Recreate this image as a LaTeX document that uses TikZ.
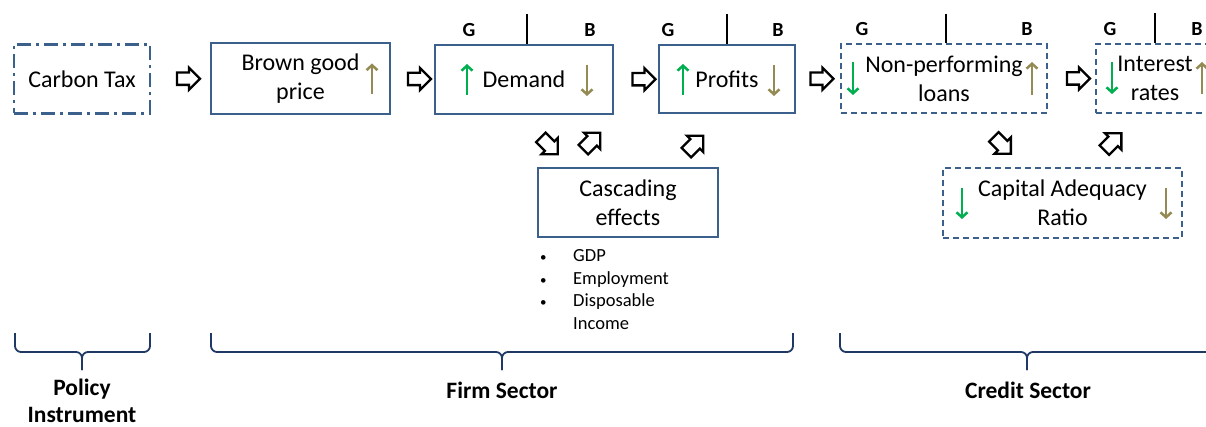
\documentclass[tikz,border=0pt]{standalone}
\usepackage{fontspec}
\setmainfont{Carlito}
\usetikzlibrary{shapes.arrows,arrows.meta,calc}
\definecolor{boxblue}{RGB}{60,96,140}
\definecolor{bracenavy}{RGB}{32,56,100}
\definecolor{upgreen}{RGB}{0,176,80}
\definecolor{olivec}{RGB}{148,138,84}
\newcommand{\smallbul}{{\fontsize{13}{13}\selectfont •}}
\tikzset{
  box/.style={draw=boxblue, line width=2.4pt, inner sep=0pt, align=center, font=\fontsize{24}{29}\selectfont},
  dashbox/.style={box, dash pattern=on 6pt off 4pt},
  dashdotbox/.style={box, dash pattern=on 14pt off 5pt on 3pt off 5pt},
  barrow/.style={single arrow, draw=black, fill=white, line width=2.3pt, minimum height=23pt, single arrow head extend=5pt, inner sep=5pt},
  darrow/.style={single arrow, draw=black, fill=white, line width=2.3pt, minimum height=24pt, single arrow head extend=5pt, inner sep=5.5pt},
  garr/.style={draw=upgreen, line width=2.5pt, -{Straight Barb[length=5pt,width=11pt]}},
  oarr/.style={draw=olivec, line width=2.5pt, -{Straight Barb[length=5pt,width=11pt]}},
  tickline/.style={draw=black, line width=1.4pt},
  gblab/.style={font=\bfseries\fontsize{20}{24}\selectfont, inner sep=0pt},
  bracestyle/.style={draw=bracenavy, line width=1.8pt, rounded corners=6pt},
  seclab/.style={font=\bfseries\fontsize{23.5}{27}\selectfont, align=center, inner sep=0pt},
  bullets/.style={font=\fontsize{18.5}{22.5}\selectfont, inner sep=0pt, align=left}
}
\begin{document}
\begin{tikzpicture}[x=1pt,y=-1pt]
\useasboundingbox (0,0) rectangle (1206,427);
\clip (0,0) rectangle (1206,427);

% main boxes
\node[dashdotbox, minimum width=136pt, minimum height=69pt] (ct) at (82,79) {Carbon Tax};
\node[box, minimum width=179pt, minimum height=71pt] (bg) at (300.5,78.5) {Brown good\\price};
\node[box, minimum width=178pt, minimum height=69pt] (dem) at (524,79.5) {Demand};
\node[box, minimum width=136pt, minimum height=68pt] (prof) at (727,79) {Profits};
\node[dashbox, minimum width=206pt, minimum height=69pt] (npl) at (944,78.5) {Non-performing\\loans};
\node[dashbox, minimum width=118pt, minimum height=69pt] (ir) at (1155,78.5) {Interest\\rates};
\node[box, minimum width=180pt, minimum height=69pt] (cas) at (628,202.5) {Cascading\\effects};
\node[dashbox, minimum width=239pt, minimum height=70pt] (car) at (1062.5,203) {Capital Adequacy\\Ratio};

% block arrows between boxes
\node[barrow] (a1) at ($(ct.east)!0.5!(bg.west)+(5,0)$) {};
\node[barrow] (a2) at ($(bg.east)!0.5!(dem.west)+(4,0)$) {};
\node[barrow] (a3) at ($(dem.east)!0.5!(prof.west)+(5,0)$) {};
\node[barrow] (a4) at ($(prof.east)!0.5!(npl.west)+(1,0)$) {};
\node[barrow] (a5) at ($(npl.east)!0.5!(ir.west)+(4,0)$) {};

% diagonal block arrows
\node[darrow, rotate=-45] (d1) at (547,143.5) {};
\node[darrow, rotate=45] (d2) at (589.5,143.5) {};
\node[darrow, rotate=45] (d3) at (692.5,146.5) {};
\node[darrow, rotate=-45] (d4) at (1000,143) {};
\node[darrow, rotate=45] (d5) at (1110.5,144) {};

% small up/down arrows inside boxes
\draw[oarr] (bg.center) ++(71.5,16) -- ++(0,-31);
\draw[garr] (dem.center) ++(-57,15.5) -- ++(0,-31);
\draw[oarr] (dem.center) ++(63,-14.5) -- ++(0,31);
\draw[garr] (prof.center) ++(-44,16) -- ++(0,-31);
\draw[oarr] (prof.center) ++(47,-14) -- ++(0,31);
\draw[garr] (npl.center) ++(-91,-16.5) -- ++(0,33);
\draw[oarr] (npl.center) ++(88,16.5) -- ++(0,-33);
\draw[garr] (ir.center) ++(-43,-16.5) -- ++(0,32);
\draw[oarr] (ir.center) ++(47,15.5) -- ++(0,-32);
\draw[garr] (car.center) ++(-100.5,-15) -- ++(0,31);
\draw[oarr] (car.center) ++(103.5,-15) -- ++(0,31);

% ticks and G / B labels
\draw[tickline] ($(dem.north)+(3,0)$) -- ++(0,-30);
\draw[tickline] (prof.north) -- ++(0,-30);
\draw[tickline] ($(npl.north)+(2,0)$) -- ++(0,-29);
\draw[tickline] (ir.north) -- ++(0,-30);
\node[gblab] (g1) at (469,30) {G};
\node[gblab] (b1) at (590,30) {B};
\node[gblab] (g2) at (668,30) {G};
\node[gblab] (b2) at (778,30) {B};
\node[gblab] (g3) at (862,29) {G};
\node[gblab] (b3) at (1027,29) {B};
\node[gblab] (g4) at (1110,29) {G};
\node[gblab] (b4) at (1197,29) {B};

% bullet list
\node[bullets, anchor=north west] (bl) at (540,246) {%
  \begin{tabular}{@{}p{33pt}@{}l@{}}
  \smallbul & GDP\\
  \smallbul & Employment\\
  \smallbul & Disposable\\
   & Income
  \end{tabular}};

% braces
\coordinate (pm) at (82,352);
\draw[bracestyle] (15,333) -- (15,352) -- (pm) -- (82,370);
\draw[bracestyle] (150,333) -- (150,352) -- (pm) -- (82,370);
\coordinate (fm) at (502,352);
\draw[bracestyle] (211,333) -- (211,352) -- (fm) -- (502,370);
\draw[bracestyle] (793,333) -- (793,352) -- (fm) -- (502,370);
\coordinate (cm) at (1027,352);
\draw[bracestyle] (840,333) -- (840,352) -- (cm) -- (1027,370);
\draw[bracestyle] (1214,333) -- (1214,352) -- (cm) -- (1027,370);

% sector labels
\node[seclab] (pl) at (82,400.5) {Policy\\Instrument};
\node[seclab] (fl) at (502,390) {Firm Sector};
\node[seclab] (cl) at (1028,390) {Credit Sector};
\end{tikzpicture}
\end{document}
